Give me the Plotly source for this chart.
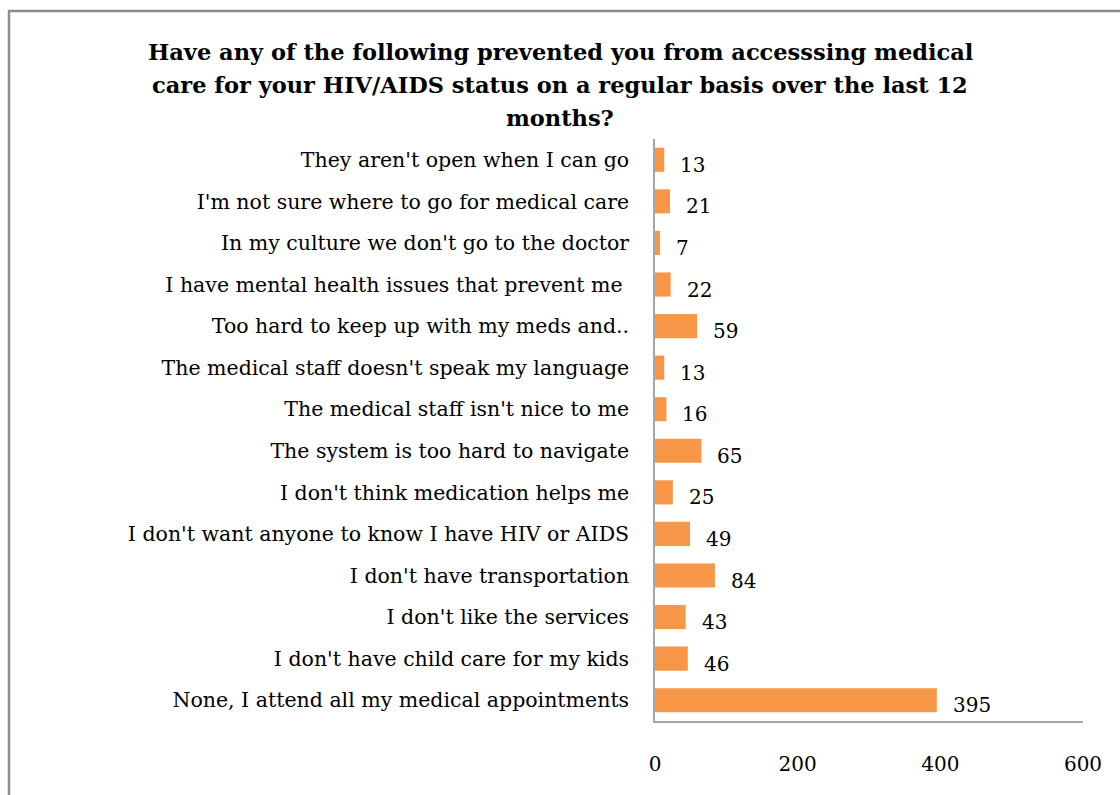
import plotly.graph_objects as go

categories = [
    "They aren't open when I can go",
    "I'm not sure where to go for medical care",
    "In my culture we don't go to the doctor",
    "I have mental health issues that prevent me ",
    "Too hard to keep up with my meds and..",
    "The medical staff doesn't speak my language",
    "The medical staff isn't nice to me",
    "The system is too hard to navigate",
    "I don't think medication helps me",
    "I don't want anyone to know I have HIV or AIDS",
    "I don't have transportation",
    "I don't like the services",
    "I don't have child care for my kids",
    "None, I attend all my medical appointments",
]
values = [13, 21, 7, 22, 59, 13, 16, 65, 25, 49, 84, 43, 46, 395]
x_ticks = [0, 200, 400, 600]

title_lines = [
    "Have any of the following prevented you from accesssing medical",
    "care for your HIV/AIDS status on a regular basis over the last 12",
    "months?",
]

FONT = "DejaVu Serif"

fig = go.Figure()
fig.add_trace(go.Bar(
    y=categories, x=values, orientation="h",
    marker=dict(color="#F79646", line=dict(width=0)),
    hoverinfo="x+y",
))

for c, v in zip(categories, values):
    fig.add_annotation(x=v, y=c, text=str(v), showarrow=False,
                       xanchor="left", xshift=14, yshift=-5,
                       font=dict(family=FONT, size=20, color="#000"))

# plot area in pixels: x 655..1083, y 139..721
L, R, T, B = 655, 1120 - 1083, 139, 795 - 721
pw, ph = 1120 - L - R, 795 - T - B
def px(x): return (x - L) / pw
def py(y): return (795 - B - y) / ph

for i, line in enumerate(title_lines):
    fig.add_annotation(xref="paper", yref="paper", x=px(560), y=py(52 + 33 * i),
                       text="<b>" + line + "</b>", showarrow=False,
                       xanchor="center", yanchor="middle",
                       font=dict(family=FONT, size=22.5, color="#000"))

fig.add_shape(type="rect", xref="paper", yref="paper",
              x0=px(9), x1=px(1130), y0=py(805), y1=py(11),
              line=dict(color="#8c8c8c", width=2.5), fillcolor="rgba(0,0,0,0)",
              layer="below")

fig.update_layout(
    width=1120, height=795,
    margin=dict(l=L, r=R, t=T, b=B),
    paper_bgcolor="white", plot_bgcolor="white",
    bargap=0.42,
    showlegend=False,
    font=dict(family=FONT, color="#000"),
)
fig.update_xaxes(range=[0, 600], tickvals=x_ticks, showgrid=False, zeroline=False,
                 showline=True, linecolor="#a6a6a6", linewidth=1.5,
                 ticks="", ticklabelstandoff=24,
                 tickfont=dict(family=FONT, size=20, color="#000"))
fig.update_yaxes(autorange="reversed", showgrid=False, zeroline=False,
                 showline=True, linecolor="#a6a6a6", linewidth=1.5,
                 ticks="", ticklabelstandoff=20,
                 tickfont=dict(family=FONT, size=20.5, color="#000"))

fig.write_html("out.html")
